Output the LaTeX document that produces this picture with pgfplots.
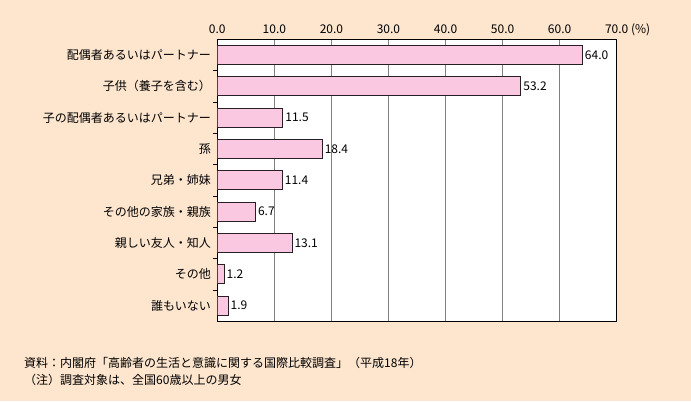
\documentclass[border=0pt]{standalone}
\usepackage{pgfplots}
\pgfplotsset{compat=1.18}
\usepackage{fontspec}
\setmainfont{Noto Sans CJK JP}
\definecolor{bgc}{RGB}{253,229,206}
\definecolor{barc}{RGB}{251,200,226}
\definecolor{edgec}{RGB}{40,30,35}
\begin{document}
\begin{tikzpicture}[x=1bp,y=1bp]
\fill[bgc] (0,0) rectangle (691,-401);
\begin{axis}[
  at={(217.3bp,-39.3bp)}, anchor=north west,
  scale only axis, width=399.4bp, height=282bp,
  xmin=0, xmax=70, ymin=-0.5, ymax=8.5, y dir=reverse,
  /pgf/number format/assume math mode=true,
  axis background/.style={fill=white},
  axis line style={black, line width=0.9pt},
  xtick={0,10,...,70},
  xticklabels={0.0,10.0,20.0,30.0,40.0,50.0,60.0,{70.0\rlap{\smash{\ (\%)}}}},
  xticklabel pos=upper,
  xticklabel style={anchor=base, yshift=6bp},
  xmajorgrids, major grid style={gray, line width=0.8pt},
  major tick length=0pt,
  ytick={0,...,8},
  yticklabels={配偶者あるいはパートナー,子供（養子を含む）,子の配偶者あるいはパートナー,孫,兄弟・姉妹,その他の家族・親族,親しい友人・知人,その他,誰もいない},
  minor ytick={0.5,1.5,...,7.5}, minor tick length=4bp, tick align=inside,
  ytick pos=left, xtick pos=upper,
  minor tick style={black, line width=0.8pt},
  ticklabel style={font=\fontsize{12bp}{14bp}\selectfont},
  yticklabel style={xshift=-3bp},
  xbar, bar width=0.6,
  nodes near coords={\pgfmathprintnumber[fixed,fixed zerofill,precision=1,assume math mode=true]{\pgfplotspointmeta}},
  nodes near coords style={font=\fontsize{12bp}{14bp}\selectfont, inner sep=2bp},
]
\addplot[fill=barc, draw=edgec, line width=1pt] coordinates {
(64.0,0) (53.2,1) (11.5,2) (18.4,3) (11.4,4) (6.7,5) (13.1,6) (1.2,7) (1.9,8)};
\end{axis}
\node[anchor=west, inner sep=0, font=\fontsize{12bp}{14bp}\selectfont] at (24,-363) {資料：内閣府「高齢者の生活と意識に関する国際比較調査」（平成18年）};
\node[anchor=west, inner sep=0, font=\fontsize{12bp}{14bp}\selectfont] at (24,-380) {（注）調査対象は、全国60歳以上の男女};
\end{tikzpicture}
\end{document}
